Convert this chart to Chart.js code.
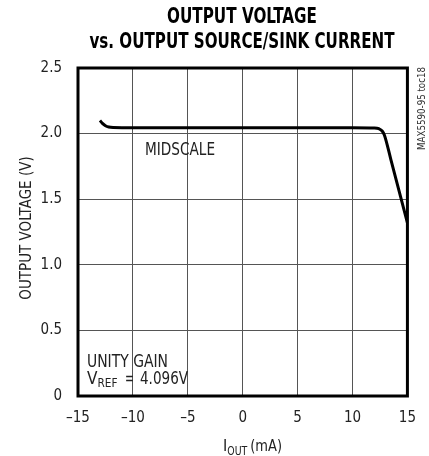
<!DOCTYPE html>
<html>
<head>
<meta charset="utf-8">
<script src="https://cdn.jsdelivr.net/npm/chart.js@4.4.0/dist/chart.umd.min.js"></script>
<style>
  html, body { margin: 0; padding: 0; background: #fff; }
  #wrap { width: 429px; height: 456px; }
</style>
</head>
<body>
<div id="wrap"><canvas id="c" width="429" height="456"></canvas></div>
<script>
// ---- data ----
const currentMA = [-13, -12.8, -12.5, -12.2, -11.8, -11, -10, -5, 0, 5, 10, 12, 12.4, 12.7, 12.9, 13.5, 14, 14.5, 15];
const outputV   = [2.10, 2.08, 2.06, 2.05, 2.046, 2.045, 2.045, 2.045, 2.045, 2.045, 2.045, 2.043, 2.037, 2.02, 1.99, 1.80, 1.64, 1.48, 1.32];
const xTicks = [-15, -10, -5, 0, 5, 10, 15];
const yTicks = [0, 0.5, 1.0, 1.5, 2.0, 2.5];
const yTickLabels = ['0', '0.5', '1.0', '1.5', '2.0', '2.5'];
const titleLines = ['OUTPUT VOLTAGE', 'vs. OUTPUT SOURCE/SINK CURRENT'];

const FONT = '"Liberation Sans Narrow", "DejaVu Sans Condensed", "Arial Narrow", sans-serif';

const points = currentMA.map((x, i) => ({ x: x, y: outputV[i] }));

// draw text squeezed horizontally to a target width (keeps it real text)
function fitText(ctx, text, x, y, width, align) {
  const w = ctx.measureText(text).width;
  const s = Math.min(1, width / w);
  ctx.save();
  ctx.textAlign = 'left';
  let left = x;
  if (align === 'center') left = x - (w * s) / 2;
  else if (align === 'right') left = x - w * s;
  ctx.translate(left, y);
  ctx.scale(s, 1);
  ctx.fillText(text, 0, 0);
  ctx.restore();
  return w * s;
}

const textPlugin = {
  id: 'texts',
  afterDraw(chart) {
    const ctx = chart.ctx;
    const a = chart.chartArea;
    ctx.save();
    // frame
    ctx.strokeStyle = '#000';
    ctx.lineWidth = 3;
    ctx.strokeRect(a.left, a.top, a.right - a.left, a.bottom - a.top);

    ctx.textBaseline = 'alphabetic';
    // title
    ctx.fillStyle = '#000';
    ctx.font = 'bold 21px ' + FONT;
    fitText(ctx, titleLines[0], 242, 23, 150, 'center');
    fitText(ctx, titleLines[1], 242, 48, 305, 'center');

    ctx.fillStyle = '#222';
    // y axis title
    ctx.save();
    ctx.translate(31, 228);
    ctx.rotate(-Math.PI / 2);
    ctx.font = '15px ' + FONT;
    fitText(ctx, 'OUTPUT VOLTAGE (V)', 0, 0, 149, 'center');
    ctx.restore();

    // x axis title  I_OUT (mA)
    ctx.font = '16px ' + FONT;
    let x = 223;
    x += fitText(ctx, 'I', x, 451, 5, 'left');
    ctx.font = '12px ' + FONT;
    x += fitText(ctx, 'OUT', x, 455, 20, 'left') + 3;
    ctx.font = '16px ' + FONT;
    fitText(ctx, '(mA)', x, 451, 282 - x, 'left');

    // annotations
    ctx.font = '17px ' + FONT;
    fitText(ctx, 'MIDSCALE', 145, 155, 70, 'left');
    fitText(ctx, 'UNITY GAIN', 87, 367, 81, 'left');
    let vx = 87;
    vx += fitText(ctx, 'V', vx, 384, 12, 'left');
    ctx.font = '12px ' + FONT;
    fitText(ctx, 'REF', vx, 387, 20, 'left');
    ctx.font = '17px ' + FONT;
    fitText(ctx, '=', 125, 384, 9, 'left');
    fitText(ctx, '4.096V', 140, 384, 48, 'left');

    // side code
    ctx.save();
    ctx.translate(425, 67);
    ctx.rotate(-Math.PI / 2);
    ctx.font = '10px ' + FONT;
    ctx.fillStyle = '#333';
    fitText(ctx, 'MAX5590-95 toc18', 0, 0, 83, 'right');
    ctx.restore();

    ctx.restore();
  }
};

new Chart(document.getElementById('c'), {
  type: 'line',
  data: {
    datasets: [{
      data: points,
      borderColor: '#000',
      borderWidth: 3,
      pointRadius: 0,
      fill: false,
      cubicInterpolationMode: 'monotone'
    }]
  },
  options: {
    responsive: false,
    animation: false,
    devicePixelRatio: 1,
    layout: { padding: { top: 68, right: 21, left: 0, bottom: 0 } },
    plugins: { legend: { display: false }, tooltip: { enabled: false }, title: { display: false } },
    scales: {
      x: {
        type: 'linear',
        min: -15, max: 15,
        afterBuildTicks: (s) => { s.ticks = xTicks.map(v => ({ value: v })); },
        afterFit: (s) => { s.height = 60; },
        grid: { color: '#555', lineWidth: 1, drawTicks: false, tickLength: 0 },
        border: { display: false },
        ticks: {
          color: '#222',
          font: { family: FONT, size: 15 },
          padding: 13,
          maxRotation: 0,
          callback: (v) => (v < 0 ? '\u2013' + Math.abs(v) : String(v))
        }
      },
      y: {
        type: 'linear',
        min: 0, max: 2.5,
        afterBuildTicks: (s) => { s.ticks = yTicks.map(v => ({ value: v })); },
        afterFit: (s) => { s.width = 78; },
        grid: { color: '#555', lineWidth: 1, drawTicks: false, tickLength: 0 },
        border: { display: false },
        ticks: {
          color: '#222',
          font: { family: FONT, size: 15 },
          padding: 16,
          callback: (v) => yTickLabels[yTicks.indexOf(v)]
        }
      }
    }
  },
  plugins: [textPlugin]
});
</script>
</body>
</html>
